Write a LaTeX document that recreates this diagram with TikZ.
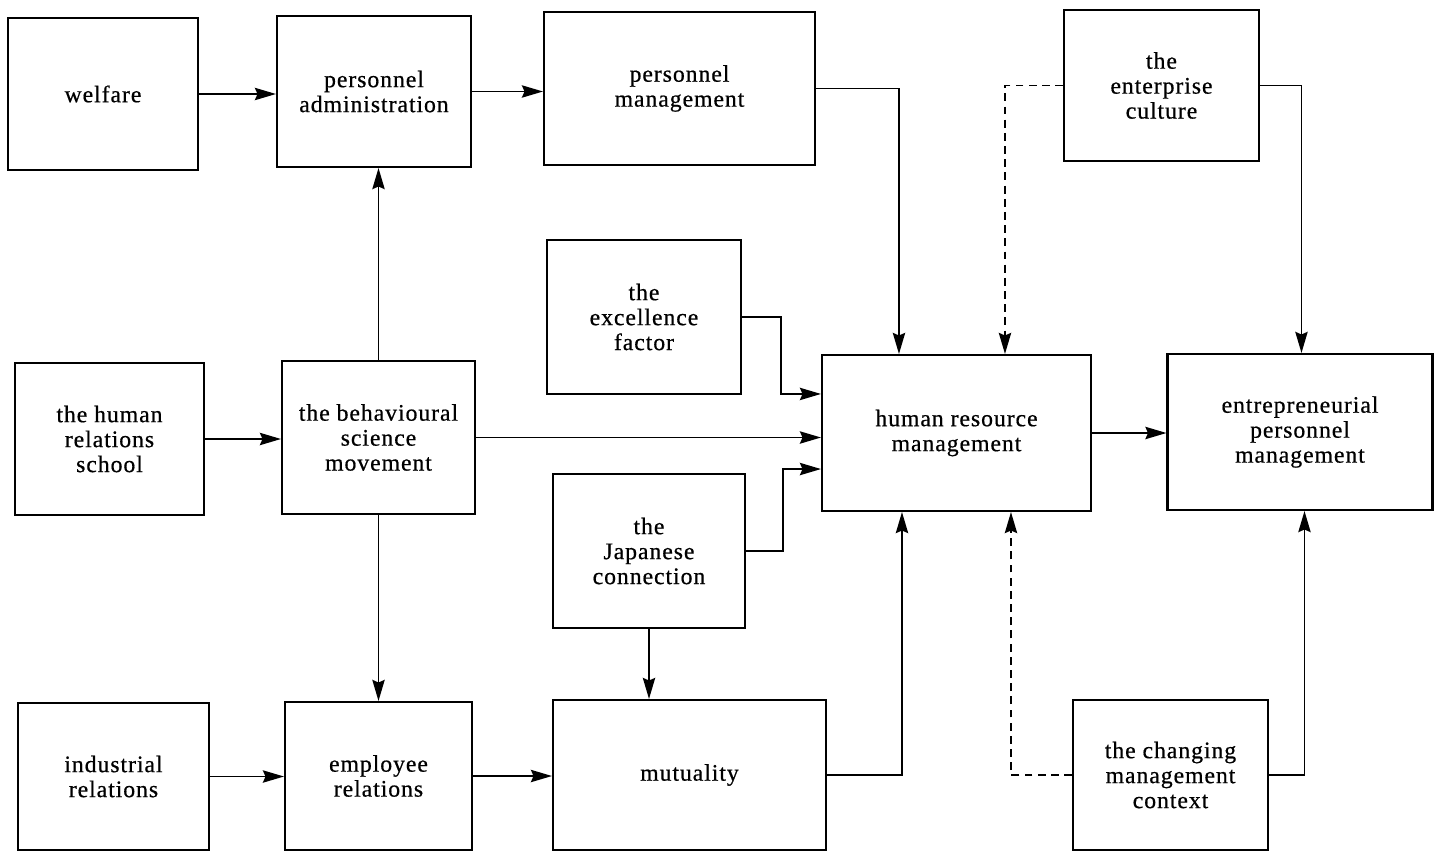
\documentclass[tikz,border=0pt]{standalone}
\usepackage{fontspec}
\setmainfont[LetterSpace=4,FakeBold=0.6]{Liberation Serif}
\usetikzlibrary{arrows.meta,calc}

\begin{document}
\begin{tikzpicture}[x=0.02cm,y=-0.02cm,
  box/.style={draw,line width=1.2pt,inner sep=0pt,align=center,
    font=\fontsize{13.5}{14.2}\selectfont},
  arr/.style={line width=1.05pt,-{Stealth[length=12pt,width=7pt,inset=1.5pt]}},
  dasharr/.style={arr,dash pattern=on 4.5pt off 3pt}]

% canvas
\useasboundingbox (0,0) rectangle (1436,852);

% boxes: name, centre, width x height
\node[box,minimum width=3.80cm,minimum height=3.04cm] (welfare) at (103,94) {welfare};
\node[box,minimum width=3.88cm,minimum height=3.02cm] (padmin) at (374,91.5) {personnel\\administration};
\node[box,minimum width=5.42cm,minimum height=3.06cm] (pmgmt) at (679.5,88.5) {personnel\\management};
\node[box,minimum width=3.90cm,minimum height=3.02cm] (ent) at (1161.5,85.5) {the\\enterprise\\culture};
\node[box,minimum width=3.88cm,minimum height=3.08cm] (exc) at (644,317) {the\\excellence\\factor};
\node[box,minimum width=3.78cm,minimum height=3.04cm] (hrs) at (109.5,439) {the human\\relations\\school};
\node[box,minimum width=3.86cm,minimum height=3.06cm] (beh) at (378.5,437.5) {the behavioural\\science\\movement};
\node[box,minimum width=5.38cm,minimum height=3.12cm] (hrm) at (956.5,433) {human resource\\management};
\node[box,minimum width=5.30cm,minimum height=3.12cm] (epm) at (1300,432) {entrepreneurial\\personnel\\management};
\node[box,minimum width=3.84cm,minimum height=3.08cm] (jap) at (649,551) {the\\Japanese\\connection};
\node[box,minimum width=3.82cm,minimum height=2.94cm] (ind) at (113.5,776.5) {industrial\\relations};
\node[box,minimum width=3.74cm,minimum height=2.96cm] (emp) at (378.5,776) {employee\\relations};
\node[box,minimum width=5.46cm,minimum height=3.00cm] (mut) at (689.5,775) {mutuality};
\node[box,minimum width=3.90cm,minimum height=3.00cm] (chg) at (1170.5,775) {the changing\\management\\context};

% straight links
\draw[arr] (welfare.east) -- (welfare.east -| padmin.west);
\draw[arr] (padmin.east) -- (padmin.east -| pmgmt.west);
\draw[arr] (beh.north) -- (beh.north |- padmin.south);
\draw[arr] (hrs.east) -- (hrs.east -| beh.west);
\draw[arr] (beh.east) -- (beh.east -| hrm.west);
\draw[arr] (hrm.east) -- (hrm.east -| epm.west);
\draw[arr] (beh.south) -- (beh.south |- emp.north);
\draw[arr] (ind.east) -- (ind.east -| emp.west);
\draw[arr] (emp.east) -- (emp.east -| mut.west);
\draw[arr] (jap.south) -- (jap.south |- mut.north);

% elbow links into human resource management
\draw[arr] (pmgmt.east) -| ($(hrm.north west)+(78,0)$);
\draw[dasharr] (ent.west) -| ($(hrm.north west)+(184,0)$);
\draw[arr] (exc.east) -- ++(39,0) |- ($(hrm.north west)+(0,40)$);
\draw[arr] (jap.east) -- ++(37,0) |- ($(hrm.south west)+(0,-43)$);
\draw[arr] (mut.east) -| ($(hrm.south west)+(81,0)$);
\draw[dasharr] (chg.west) -| ($(hrm.south west)+(190,0)$);

% elbow links into entrepreneurial personnel management
\draw[arr] (ent.east) -| ($(epm.north west)+(135,0)$);
\draw[arr] (chg.east) -| ($(epm.south west)+(138,0)$);

\end{tikzpicture}
\end{document}
